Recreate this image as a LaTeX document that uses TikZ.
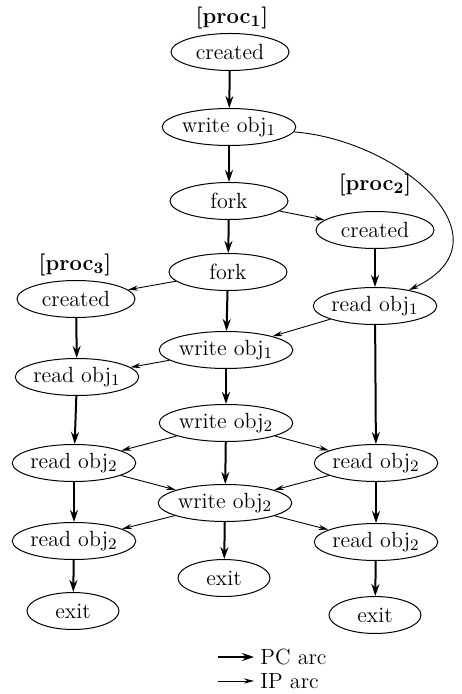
\documentclass[tikz,border=0pt]{standalone}
\usepackage{tikz}
\usetikzlibrary{arrows.meta,shapes.geometric}
\tikzset{
  stage/.style={ellipse,draw=black,line width=0.5pt,fill=white,
    minimum width=59pt,minimum height=18.5pt,inner xsep=0pt,inner ysep=1pt,
    font=\fontsize{11}{13}\selectfont,text centered},
  endstage/.style={stage,minimum width=46pt},
  proc/.style={font=\fontsize{11}{13}\selectfont\bfseries},
  pc/.style={-{Stealth[length=6pt,width=4pt]},line width=1pt},
  ip/.style={-{Stealth[length=5pt,width=2.6pt]},line width=0.45pt},
  legend/.style={font=\fontsize{11}{13}\selectfont,inner sep=1pt}
}

\begin{document}
\begin{tikzpicture}[x=0.5pt,y=-0.5pt]
  \useasboundingbox (0,0) rectangle (461,694);

  % process 1
  \node[proc] (lbl1) at (232,18) {[proc$_{\mathbf{1}}$]};
  \node[stage] (p1created) at (230,52) {created};
  \node[stage] (p1write) at (229,127) {write obj$_1$};
  \node[stage] (p1fork) at (229,201) {fork};
  \node[stage] (p1forkb) at (228,272) {fork};
  \node[stage] (p1writeb) at (226,350) {write obj$_1$};
  \node[stage] (p1writec) at (226,423) {write obj$_2$};
  \node[stage] (p1writed) at (225,503) {write obj$_2$};
  \node[endstage] (p1exit) at (224,578) {exit};

  % process 2
  \node[proc] (lbl2) at (375,185) {[proc$_{\mathbf{2}}$]};
  \node[stage] (p2created) at (375,230) {created};
  \node[stage] (p2read) at (375,306) {read obj$_1$};
  \node[stage] (p2readb) at (376,463) {read obj$_2$};
  \node[stage] (p2readc) at (376,542) {read obj$_2$};
  \node[endstage] (p2exit) at (375,615) {exit};

  % process 3
  \node[proc] (lbl3) at (75,265) {[proc$_{\mathbf{3}}$]};
  \node[stage] (p3created) at (76,299) {created};
  \node[stage] (p3read) at (77,377) {read obj$_1$};
  \node[stage] (p3readb) at (74,463) {read obj$_2$};
  \node[stage] (p3readc) at (74,541) {read obj$_2$};
  \node[endstage] (p3exit) at (73,611) {exit};

  % PC arcs
  \draw[pc] (p1created) -- (p1write);
  \draw[pc] (p1write) -- (p1fork);
  \draw[pc] (p1fork) -- (p1forkb);
  \draw[pc] (p1forkb) -- (p1writeb);
  \draw[pc] (p1writeb) -- (p1writec);
  \draw[pc] (p1writec) -- (p1writed);
  \draw[pc] (p1writed) -- (p1exit);
  \draw[pc] (p2created) -- (p2read);
  \draw[pc] (p2read) -- (p2readb);
  \draw[pc] (p2readb) -- (p2readc);
  \draw[pc] (p2readc) -- (p2exit);
  \draw[pc] (p3created) -- (p3read);
  \draw[pc] (p3read) -- (p3readb);
  \draw[pc] (p3readb) -- (p3readc);
  \draw[pc] (p3readc) -- (p3exit);

  % IP arcs
  \draw[ip] (p1fork) -- (p2created);
  \draw[ip] (p1forkb) -- (p3created);
  \draw[ip] (p1write) .. controls (400,140) and (515,240) .. (p2read);
  \draw[ip] (p2read) -- (p1writeb);
  \draw[ip] (p1writeb) -- (p3read);
  \draw[ip] (p1writec) -- (p3readb);
  \draw[ip] (p1writec) -- (p2readb);
  \draw[ip] (p3readb) -- (p1writed);
  \draw[ip] (p2readb) -- (p1writed);
  \draw[ip] (p1writed) -- (p3readc);
  \draw[ip] (p1writed) -- (p2readc);

  % legend
  \coordinate (pcfrom) at (218,657);
  \node[legend,anchor=west] (pclbl) at (258,657) {PC arc};
  \draw[pc] (pcfrom) -- ([xshift=-2pt]pclbl.west);
  \coordinate (ipfrom) at (218,681);
  \node[legend,anchor=west] (iplbl) at (258,681) {IP arc};
  \draw[ip] (ipfrom) -- ([xshift=-2pt]iplbl.west);
\end{tikzpicture}
\end{document}
